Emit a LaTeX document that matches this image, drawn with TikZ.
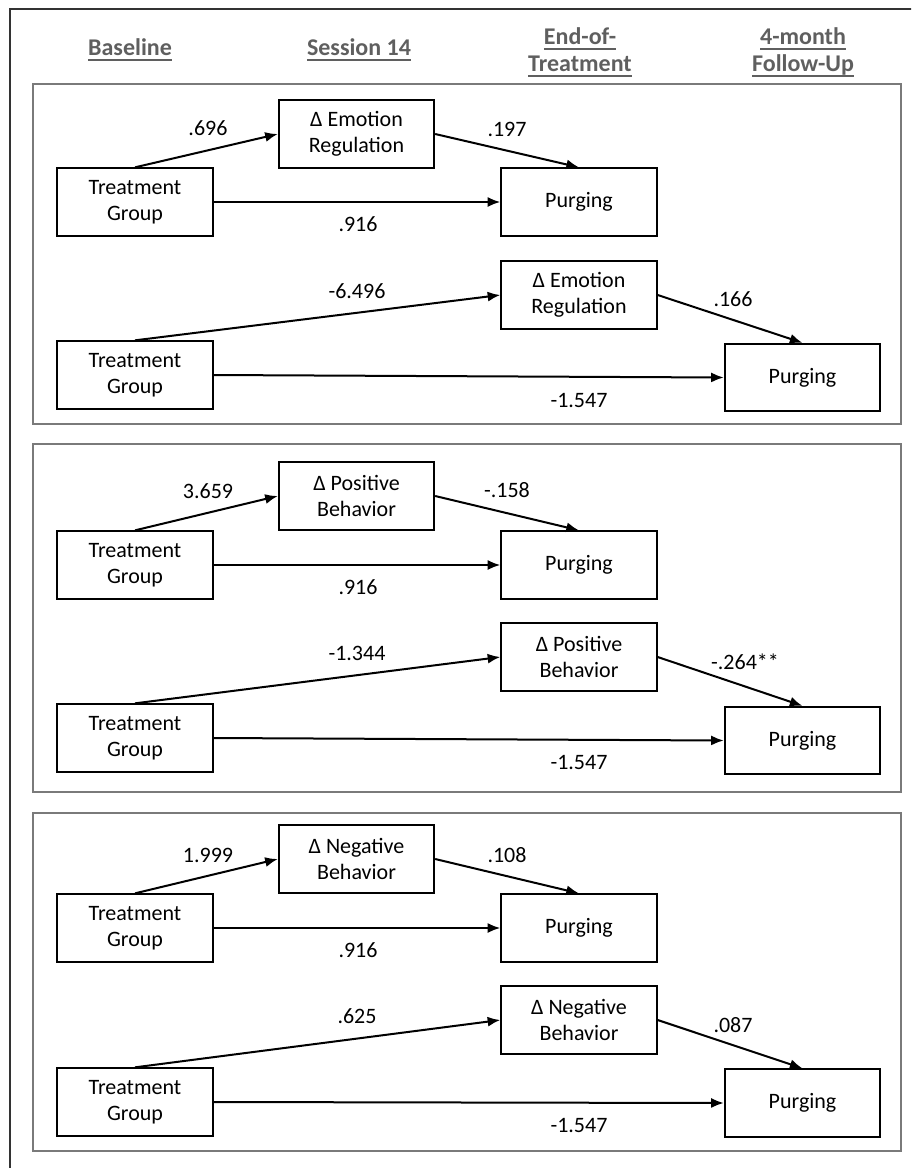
\documentclass[tikz,border=0pt]{standalone}
\usepackage{fontspec}
\setmainfont{Carlito}
\usetikzlibrary{arrows.meta}
\definecolor{hdrgray}{HTML}{5F5F5F}
\definecolor{framegray}{HTML}{7A7A7A}
\definecolor{outergray}{HTML}{333333}
\newcommand\hdrul[1]{\setbox0=\hbox{#1}\rlap{\raisebox{-4pt}{\rule{\wd0}{1.5pt}}}\box0}
\begin{document}
\begin{tikzpicture}[x=0.75pt,y=-0.75pt,
  box/.style={draw=black,line width=1.5pt,minimum width=116.5pt,minimum height=50.5pt,inner sep=0pt,align=center,font=\fontsize{16.5}{19.5}\selectfont},
  conn/.style={line width=1.5pt,-{Latex[length=9.5pt,width=7.5pt]}},
  lbl/.style={font=\fontsize{16.5}{19.5}\selectfont,inner sep=0pt},
  hdr/.style={font=\fontsize{18}{20.25}\selectfont\bfseries,text=hdrgray,align=center,inner sep=0pt},
  panel/.style={draw=framegray,line width=1.5pt}
]
\useasboundingbox (0,0) rectangle (911,1168);
\clip (0,0) rectangle (911,1168);
\draw[outergray,line width=1.6pt] (10,9) rectangle (940,1200);

% headers
\node[hdr] (h1) at (130,50) {\hdrul{Baseline}};
\node[hdr] (h2) at (359,50) {\hdrul{Session 14}};
\node[hdr] (h3) at (580,52) {\hdrul{End-of-}\\\hdrul{Treatment}};
\node[hdr] (h4) at (803,52) {\hdrul{4-month}\\\hdrul{Follow-Up}};

% panel frames
\draw[panel] (33,84) rectangle (901,424);
\draw[panel] (33,444) rectangle (901,792);
\draw[panel] (33,813) rectangle (901,1151);

% ---------- Panel 1 ----------
\node[box] (a1) at (135,202) {Treatment\\Group};
\node[box] (a2) at (356.5,134) {Δ Emotion\\Regulation};
\node[box] (a3) at (579,202) {Purging};
\node[box] (a4) at (579,295) {Δ Emotion\\Regulation};
\node[box] (a5) at (135,375) {Treatment\\Group};
\node[box] (a6) at (802.5,377.5) {Purging};
\draw[conn] (a1.north) -- (a2.west);
\draw[conn] (a2.east) -- (a3.north);
\draw[conn] (a1.east) -- (a3.west);
\draw[conn] (a5.north) -- (a4.west);
\draw[conn] (a4.east) -- (a6.north);
\draw[conn] (a5.east) -- (a6.west);
\node[lbl] (la1) at (208,128) {.696};
\node[lbl] (la2) at (507,129) {.197};
\node[lbl] (la3) at (358,224) {.916};
\node[lbl] (la4) at (357,291) {-6.496};
\node[lbl] (la5) at (733,299) {.166};
\node[lbl] (la6) at (579,400) {-1.547};

% ---------- Panel 2 ----------
\node[box] (b1) at (135,565) {Treatment\\Group};
\node[box] (b2) at (356.5,496) {Δ Positive\\Behavior};
\node[box] (b3) at (579,565) {Purging};
\node[box] (b4) at (579,657) {Δ Positive\\Behavior};
\node[box] (b5) at (135,738) {Treatment\\Group};
\node[box] (b6) at (802.5,740.5) {Purging};
\draw[conn] (b1.north) -- (b2.west);
\draw[conn] (b2.east) -- (b3.north);
\draw[conn] (b1.east) -- (b3.west);
\draw[conn] (b5.north) -- (b4.west);
\draw[conn] (b4.east) -- (b6.north);
\draw[conn] (b5.east) -- (b6.west);
\node[lbl] (lb1) at (208,491) {3.659};
\node[lbl] (lb2) at (507,490) {-.158};
\node[lbl] (lb3) at (358,587) {.916};
\node[lbl] (lb4) at (357,653) {-1.344};
\node[lbl] (lb5) at (745,662) {-.264**};
\node[lbl] (lb6) at (579,762) {-1.547};

% ---------- Panel 3 ----------
\node[box] (c1) at (135,928) {Treatment\\Group};
\node[box] (c2) at (356.5,859) {Δ Negative\\Behavior};
\node[box] (c3) at (579,928) {Purging};
\node[box] (c4) at (579,1020) {Δ Negative\\Behavior};
\node[box] (c5) at (135,1102) {Treatment\\Group};
\node[box] (c6) at (802.5,1103) {Purging};
\draw[conn] (c1.north) -- (c2.west);
\draw[conn] (c2.east) -- (c3.north);
\draw[conn] (c1.east) -- (c3.west);
\draw[conn] (c5.north) -- (c4.west);
\draw[conn] (c4.east) -- (c6.north);
\draw[conn] (c5.east) -- (c6.west);
\node[lbl] (lc1) at (208,855) {1.999};
\node[lbl] (lc2) at (507,855) {.108};
\node[lbl] (lc3) at (358,950) {.916};
\node[lbl] (lc4) at (357,1016) {.625};
\node[lbl] (lc5) at (733,1025) {.087};
\node[lbl] (lc6) at (579,1125) {-1.547};
\end{tikzpicture}
\end{document}
